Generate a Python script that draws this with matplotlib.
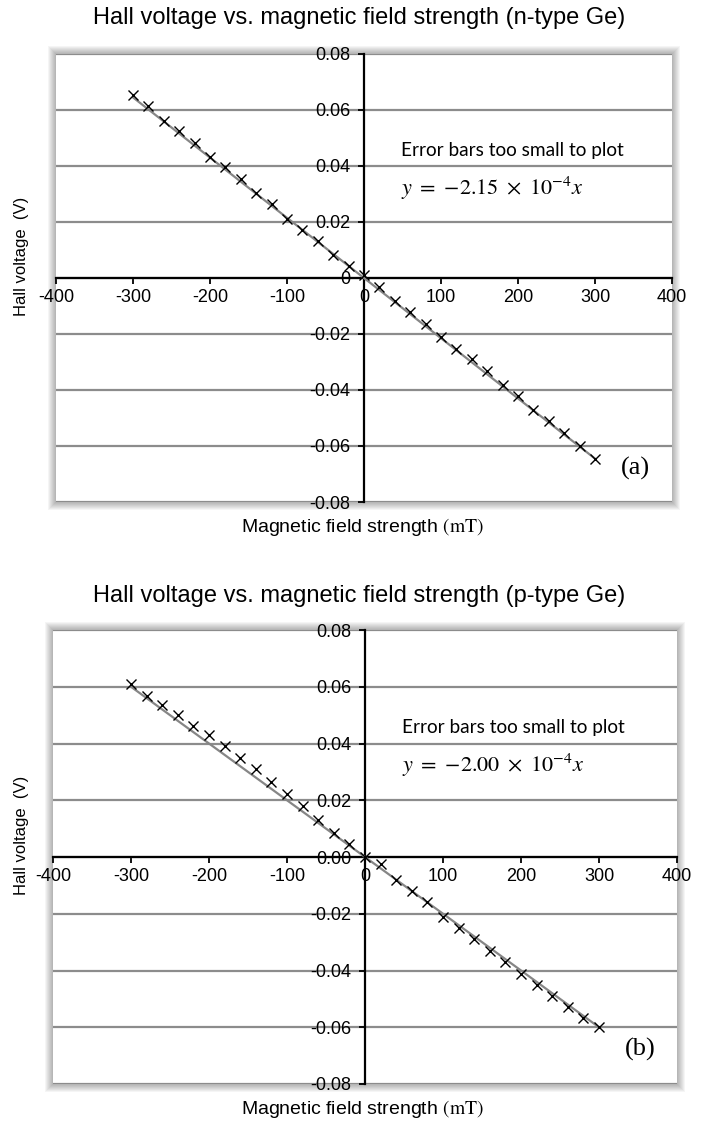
import matplotlib
matplotlib.use('Agg')
import matplotlib.pyplot as plt
from matplotlib.patches import Rectangle
from matplotlib.ticker import FuncFormatter, MultipleLocator
import numpy as np

plt.rcParams['font.family'] = ['Liberation Sans', 'DejaVu Sans']
plt.rcParams['mathtext.fontset'] = 'stix'
plt.rcParams['axes.unicode_minus'] = False

#### measured data: field (mT) and Hall voltage (V)
field = [-300, -280, -260, -240, -220, -200, -180, -160, -140, -120, -100, -80,
         -60, -40, -20, 0, 20, 40, 60, 80, 100, 120, 140, 160, 180, 200, 220,
         240, 260, 280, 300]

volt_n = [0.0654, 0.0615, 0.0562, 0.0525, 0.0481, 0.0433, 0.0395, 0.0353,
          0.0303, 0.0264, 0.0212, 0.0172, 0.0132, 0.0083, 0.0042, 0.0011,
          -0.0033, -0.0083, -0.0123, -0.0164, -0.0211, -0.0253, -0.0291,
          -0.0332, -0.0383, -0.0421, -0.0470, -0.0510, -0.0552, -0.0601, -0.0645]

volt_p = [0.0608, 0.0569, 0.0537, 0.0500, 0.0460, 0.0430, 0.0390, 0.0349,
          0.0311, 0.0263, 0.0222, 0.0181, 0.0132, 0.0083, 0.0047, 0.0001,
          -0.0026, -0.0081, -0.0121, -0.0160, -0.0211, -0.0249, -0.0290,
          -0.0330, -0.0371, -0.0411, -0.0451, -0.0490, -0.0529, -0.0567, -0.0599]

slope_n = -2.15e-4
slope_p = -2.00e-4

titles = ['Hall voltage vs. magnetic field strength (n-type Ge)',
          'Hall voltage vs. magnetic field strength (p-type Ge)']
eq_labels = [r'$y\ =\ {-}2.15\ \times\ 10^{-4}x$', r'$y\ =\ {-}2.00\ \times\ 10^{-4}x$']
panel_tags = ['(a)', '(b)']

W, H = 705, 1124
fig = plt.figure(figsize=(W / 100, H / 100), dpi=100)


def px_axes(left, top, right, bottom):
    ## pixel box -> figure fraction axes
    return fig.add_axes([left / W, 1 - bottom / H, (right - left) / W, (bottom - top) / H])


def add_shadow(ax, n=8):
    b = ax.get_position()
    for k in range(n, 0, -1):
        dx, dy = k / W, k / H
        fig.patches.append(Rectangle((b.x0 - dx, b.y0 - dy), b.width + 2 * dx, b.height + 2 * dy,
                                     transform=fig.transFigure, facecolor='black',
                                     alpha=0.04, edgecolor='none', zorder=-5))


def yfmt_n(v, pos):
    if abs(v) < 1e-9:
        return '0'
    return '%.2f' % v


def yfmt_p(v, pos):
    if abs(v) < 1e-9:
        return '0.00'
    return '%.2f' % v


def draw_panel(ax, volts, slope, title, eq, tag, yfmt, title_y, xlabel_y, ylabel_y):
    ax.set_xlim(-400, 400)
    ax.set_ylim(-0.08, 0.08)
    ax.set_facecolor('white')

    ## zero-crossing axes
    ax.spines['left'].set_position(('data', 0))
    ax.spines['bottom'].set_position(('data', 0))
    ax.spines['top'].set_visible(False)
    ax.spines['right'].set_visible(False)
    for s in ('left', 'bottom'):
        ax.spines[s].set_linewidth(1.6)
        ax.spines[s].set_zorder(3)

    ax.xaxis.set_major_locator(MultipleLocator(100))
    ax.yaxis.set_major_locator(MultipleLocator(0.02))
    ax.yaxis.set_major_formatter(FuncFormatter(yfmt))
    ax.xaxis.set_major_formatter(FuncFormatter(lambda v, p: '%d' % v))
    ax.tick_params(axis='both', direction='out', length=4, width=1.3, labelsize=13)
    ax.tick_params(axis='y', pad=6)
    ax.tick_params(axis='x', pad=4)

    ax.grid(axis='y', color='#8c8c8c', linewidth=1.6)
    ax.set_axisbelow(True)

    xs = np.array(field)
    ax.plot([xs[0], xs[-1]], [slope * xs[0], slope * xs[-1]], color='#868686', lw=1.6, zorder=4)
    ax.plot(xs, volts, linestyle='none', marker='x', markersize=7, markeredgewidth=1.0,
            color='black', zorder=5)

    ax.text(48, 0.0455, 'Error bars too small to plot', family=['Lato', 'DejaVu Sans'],
            fontsize=13.7, va='center', ha='left', zorder=6)
    ax.text(48, 0.0322, eq, fontsize=16, va='center', ha='left', zorder=6)
    ax.text(0.965, 0.075, tag, transform=ax.transAxes, family=['Liberation Serif'],
            fontsize=19, ha='right', va='center', zorder=6)

    add_shadow(ax)

    fig.text(359 / W, 1 - title_y / H, title, ha='center', va='center', fontsize=17)
    fig.text(362 / W, 1 - xlabel_y / H, r'Magnetic field strength $(\mathrm{mT})$',
             ha='center', va='center', fontsize=14)
    fig.text(22 / W, 1 - ylabel_y / H, 'Hall voltage  (V)', rotation=90,
             ha='center', va='center', fontsize=12)


ax1 = px_axes(56, 54, 672, 502)
ax2 = px_axes(53, 630, 677, 1084)

draw_panel(ax1, volt_n, slope_n, titles[0], eq_labels[0], panel_tags[0], yfmt_n, 18, 527, 256)
draw_panel(ax2, volt_p, slope_p, titles[1], eq_labels[1], panel_tags[1], yfmt_p, 596, 1109, 835)

fig.savefig('out.png', dpi=100, facecolor='white')
